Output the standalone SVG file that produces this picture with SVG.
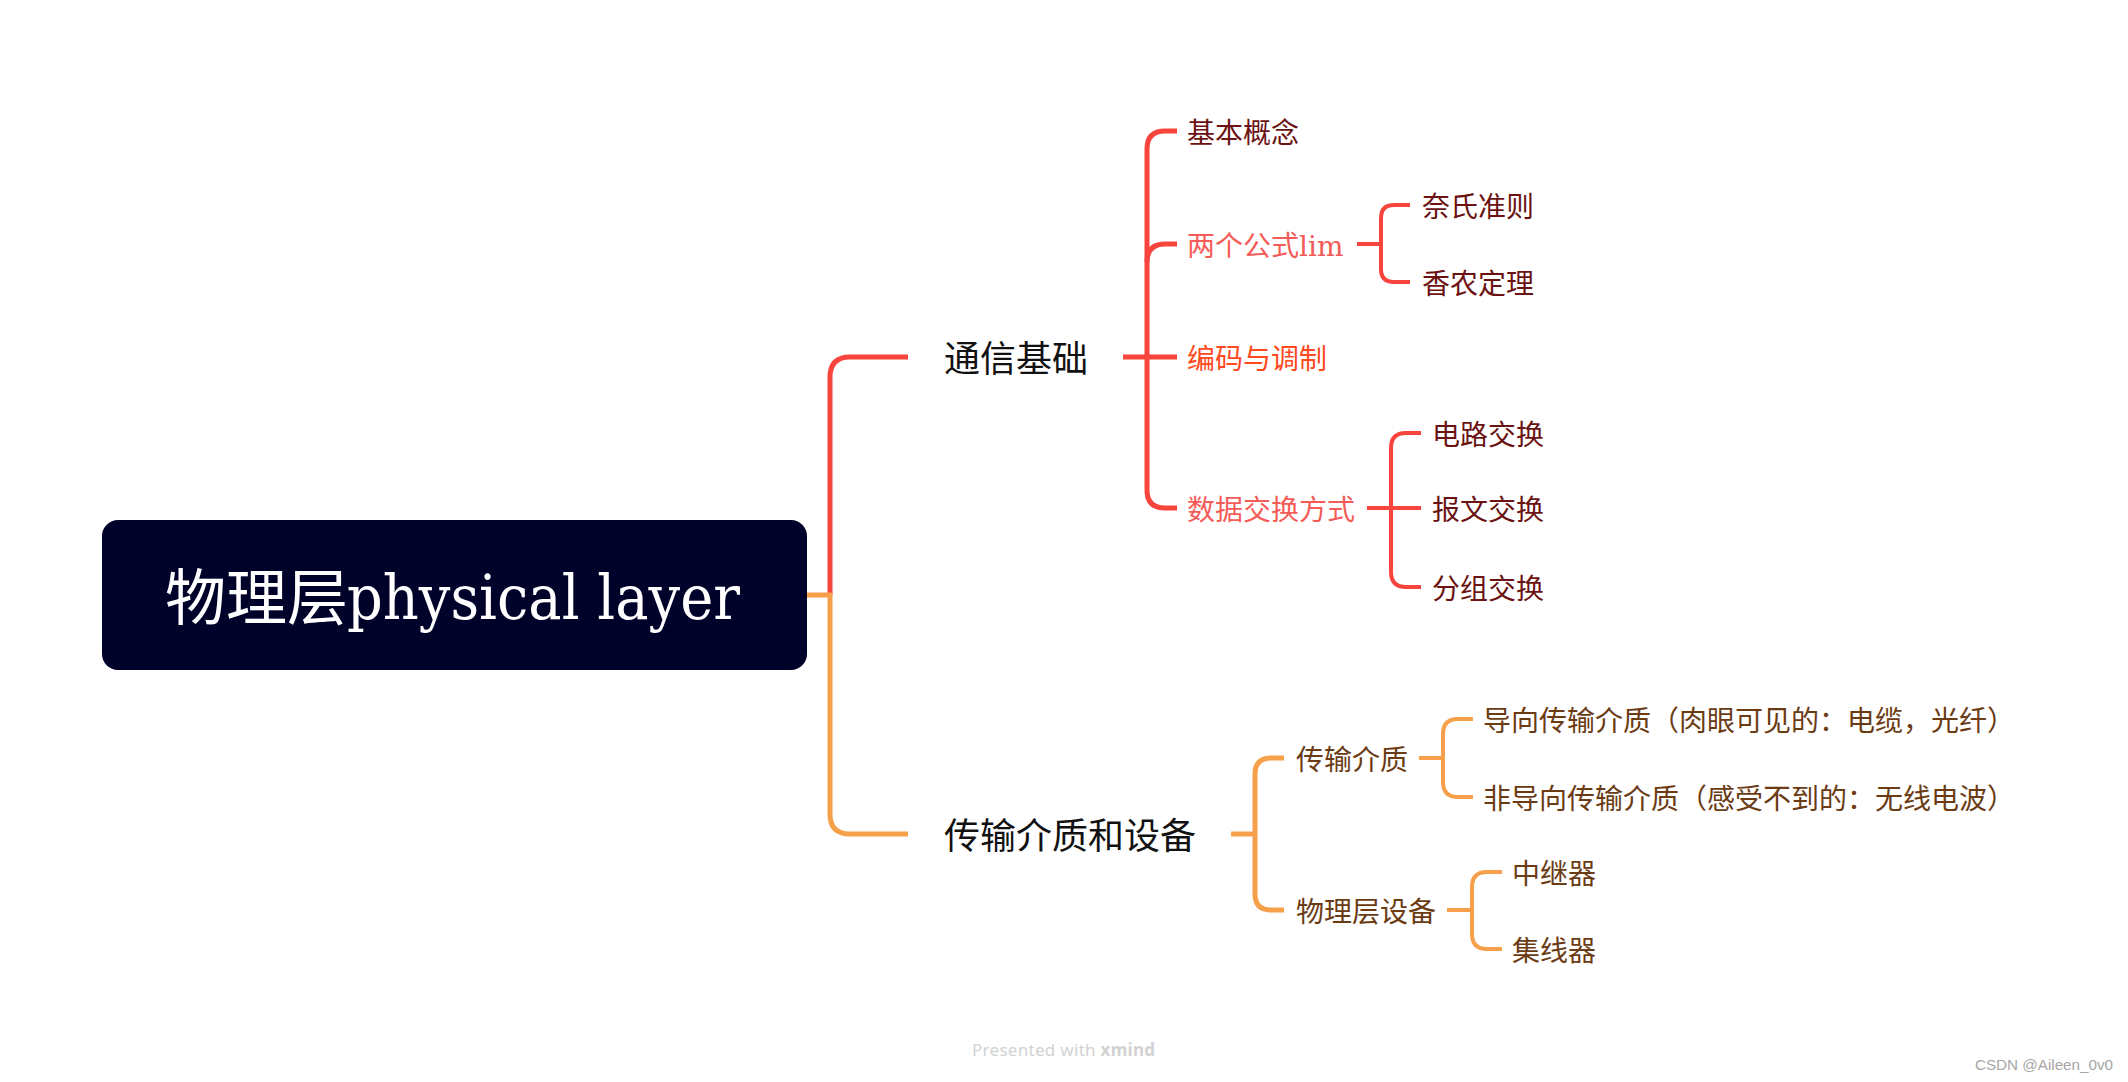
<svg xmlns="http://www.w3.org/2000/svg" width="2128" height="1082" viewBox="0 0 2128 1082">
<style>
.t{font-family:"Noto Sans CJK SC","Noto Sans",sans-serif}
.ts{font-family:"DejaVu Serif","Noto Sans CJK SC",serif}
.l1{font-size:36px;fill:#111111}
.l2{font-size:28px}
.rd{fill:#6B1212}
.br{fill:#6B3B14}
.sal{fill:#F55B57}
.org{fill:#FF4A1E}
.cr{fill:none;stroke:#F7453E;stroke-linecap:butt}
.co{fill:none;stroke:#F7A04C;stroke-linecap:butt}
.w5{stroke-width:5}
.w4{stroke-width:4}
</style>
<rect width="2128" height="1082" fill="#ffffff"/>
<g id="connectors">
<path class="cr w5" d="M830,595 V377 Q830,357 850,357 H908"/>
<path class="co w5" d="M807,595 H830 V814 Q830,834 850,834 H908"/>
<path class="cr w5" d="M1177,131 H1165 Q1147,131 1147,149 V490 Q1147,508 1165,508 H1177"/>
<path class="cr w5" d="M1147,262 Q1147,244 1165,244 H1177"/>
<path class="cr w5" d="M1123,357 H1177"/>
<path class="cr w4" d="M1357,244 H1381"/>
<path class="cr w4" d="M1410,205 H1394 Q1381,205 1381,218 V269 Q1381,282 1394,282 H1410"/>
<path class="cr w4" d="M1367,508 H1421"/>
<path class="cr w4" d="M1421,433 H1406 Q1391,433 1391,448 V572 Q1391,587 1406,587 H1421"/>
<path class="co w5" d="M1231,834 H1255"/>
<path class="co w5" d="M1284,758 H1271 Q1255,758 1255,774 V894 Q1255,910 1271,910 H1284"/>
<path class="co w4" d="M1419,758 H1443"/>
<path class="co w4" d="M1473,719 H1458 Q1443,719 1443,734 V782 Q1443,797 1458,797 H1473"/>
<path class="co w4" d="M1447,910 H1472"/>
<path class="co w4" d="M1502,872 H1487 Q1472,872 1472,887 V934 Q1472,949 1487,949 H1502"/>
</g>
<g id="root">
<rect x="102" y="520" width="705" height="150" rx="16" fill="#000229"/>
<text class="t" x="165" y="620" font-size="61" fill="#ffffff">物理层</text>
<text class="ts" x="347" y="619" font-size="61" fill="#ffffff" textLength="393" lengthAdjust="spacingAndGlyphs">physical layer</text>
</g>
<g id="n-tongxin"><text class="t l1" x="944" y="372">通信基础</text></g>
<g id="n-chuanshu"><text class="t l1" x="944" y="849">传输介质和设备</text></g>
<g id="n-jiben"><text class="t l2 rd" x="1187" y="143">基本概念</text></g>
<g id="n-gongshi"><text class="t l2 sal" x="1187" y="256">两个公式<tspan class="ts">lim</tspan></text></g>
<g id="n-bianma"><text class="t l2 org" x="1187" y="369">编码与调制</text></g>
<g id="n-shuju"><text class="t l2 sal" x="1187" y="520">数据交换方式</text></g>
<g id="n-naishi"><text class="t l2 rd" x="1422" y="217">奈氏准则</text></g>
<g id="n-xiangnong"><text class="t l2 rd" x="1422" y="294">香农定理</text></g>
<g id="n-dianlu"><text class="t l2 rd" x="1432" y="445">电路交换</text></g>
<g id="n-baowen"><text class="t l2 rd" x="1432" y="520">报文交换</text></g>
<g id="n-fenzu"><text class="t l2 rd" x="1432" y="599">分组交换</text></g>
<g id="n-jiezhi"><text class="t l2 br" x="1296" y="770">传输介质</text></g>
<g id="n-shebei"><text class="t l2 br" x="1296" y="922">物理层设备</text></g>
<g id="n-daoxiang"><text class="t l2 br" x="1483" y="731">导向传输介质（肉眼可见的：电缆，光纤）</text></g>
<g id="n-feidaoxiang"><text class="t l2 br" x="1483" y="809">非导向传输介质（感受不到的：无线电波）</text></g>
<g id="n-zhongji"><text class="t l2 br" x="1512" y="884">中继器</text></g>
<g id="n-jixian"><text class="t l2 br" x="1512" y="961">集线器</text></g>
<text x="972" y="1056" font-family="'Noto Sans',sans-serif" font-size="17" fill="#d2d2d2" textLength="183" lengthAdjust="spacing">Presented with <tspan font-weight="bold">xmind</tspan></text>
<text x="1975" y="1070" font-family="'Liberation Sans',sans-serif" font-size="14" fill="#a6a6a6" textLength="138" lengthAdjust="spacingAndGlyphs">CSDN @Aileen_0v0</text>
</svg>
